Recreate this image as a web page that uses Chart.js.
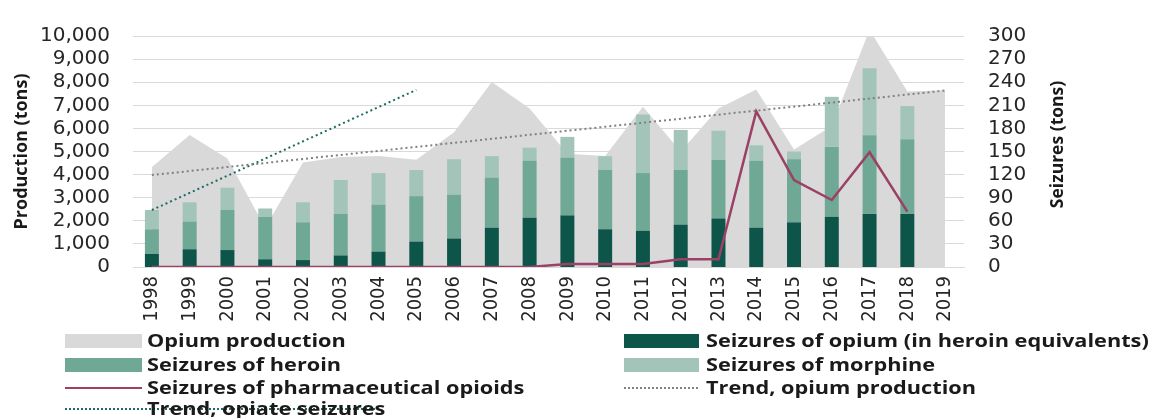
<!DOCTYPE html>
<html>
<head>
<meta charset="utf-8">
<script src="https://cdn.jsdelivr.net/npm/chart.js@4.4.1/dist/chart.umd.min.js"></script>
<style>
  body { margin: 0; background: #fff; }
  #wrap { position: relative; width: 1150px; height: 418px; overflow: hidden; }
  #legend { position: absolute; left: 0; top: 0; width: 1150px; height: 418px; pointer-events: none;
            font: 700 17.5px "Open Sans", sans-serif; color: #1a1a1a; }
  .sw { position: absolute; }
  .lbl { position: absolute; white-space: nowrap; line-height: 22px;
         transform: scaleX(1.24); transform-origin: 0 50%; }
</style>
</head>
<body>
<div id="wrap">
  <canvas id="myChart" width="1150" height="418"></canvas>
  <div id="legend"></div>
</div>
<script>
const years = ['1998','1999','2000','2001','2002','2003','2004','2005','2006','2007','2008',
               '2009','2010','2011','2012','2013','2014','2015','2016','2017','2018','2019'];

// left axis, tons
const opiumProduction = [4320, 5710, 4700, 1700, 4520, 4760, 4800, 4640, 5830, 8010, 6860,
                         4900, 4800, 6940, 5000, 6860, 7680, 5090, 6100, 10270, 7600, 7650];
const trendProduction = [3980, null, null, null, null, null, null, null, null, null, null,
                         null, null, null, null, null, null, null, null, null, null, 7640];

// right axis, tons
const seizOpium    = [17, 23, 22, 10,  9, 15, 20, 33, 37, 51, 64, 67, 49, 47, 55, 63, 51, 58, 65,  69, 69, null];
const seizHeroin   = [32, 36, 52, 55, 49, 54, 61, 59, 57, 65, 74, 75, 77, 75, 71, 76, 87, 82, 91, 102, 97, null];
const seizMorphine = [25, 25, 29, 11, 26, 44, 41, 34, 46, 28, 17, 27, 18, 76, 52, 38, 20, 10, 65,  87, 43, null];
const seizPharma   = [0, 0, 0, 0, 0, 0, 0, 0, 0, 0, 0, 4, 4, 4, 10, 10, 202, 113, 87, 149, 72, null];
const trendSeizures = [74, null, null, null, null, null, null, 230, null, null, null,
                       null, null, null, null, null, null, null, null, null, null, null];

const leftTicks = { min: 0, max: 10000, step: 1000 };
const rightTicks = { min: 0, max: 300, step: 30 };

const tickFont = { family: 'DejaVu Sans', size: 20 };
const yearFont = { family: '"Liberation Sans Narrow", "DejaVu Sans Condensed", sans-serif', size: 20 };
const textCol = '#262626';

const rightTitle = {
  id: 'rightTitle',
  afterDraw(c) {
    const ctx = c.ctx;
    const s = c.scales.y2;
    ctx.save();
    ctx.translate(s.right - 92, (c.chartArea.top + c.chartArea.bottom) / 2 - 7);
    ctx.rotate(-Math.PI / 2);
    ctx.font = '700 17.5px "Open Sans"';
    ctx.fillStyle = '#1a1a1a';
    ctx.textAlign = 'center';
    ctx.textBaseline = 'middle';
    ctx.fillText('Seizures (tons)', 0, 0);
    ctx.restore();
  }
};

const data = {
  labels: years,
  datasets: [
    { type: 'line', label: 'Opium production', data: opiumProduction, yAxisID: 'y', stack: 'prod',
      fill: 'origin', backgroundColor: '#d9d9d9', borderWidth: 0, pointRadius: 0, order: 10, clip: false },
    { label: 'Seizures of opium (in heroin equivalents)', data: seizOpium, yAxisID: 'y2', stack: 's',
      backgroundColor: '#0d5449', barPercentage: 0.37, categoryPercentage: 1, order: 5 },
    { label: 'Seizures of heroin', data: seizHeroin, yAxisID: 'y2', stack: 's',
      backgroundColor: '#6fa894', barPercentage: 0.37, categoryPercentage: 1, order: 5 },
    { label: 'Seizures of morphine', data: seizMorphine, yAxisID: 'y2', stack: 's',
      backgroundColor: '#a3c5b9', barPercentage: 0.37, categoryPercentage: 1, order: 5 },
    { type: 'line', label: 'Seizures of pharmaceutical opioids', data: seizPharma, yAxisID: 'y2', stack: 'ph',
      borderColor: '#9a4165', borderWidth: 2.5, pointRadius: 0, fill: false, order: 1 },
    { type: 'line', label: 'Trend, opium production', data: trendProduction, yAxisID: 'y', stack: 'tp',
      borderColor: '#808080', borderWidth: 2, borderDash: [2, 3], spanGaps: true, pointRadius: 0, fill: false, order: 2 },
    { type: 'line', label: 'Trend, opiate seizures', data: trendSeizures, yAxisID: 'y2', stack: 'ts',
      borderColor: '#1e6b63', borderWidth: 2, borderDash: [2, 3], spanGaps: true, pointRadius: 0, fill: false, order: 2 }
  ]
};

const config = {
  type: 'bar',
  data: data,
  options: {
    responsive: false,
    animation: false,
    layout: { padding: { top: 11, left: 0, right: 0, bottom: 0 } },
    plugins: { legend: { display: false }, tooltip: { enabled: false } },
    scales: {
      x: {
        stacked: true,
        grid: { display: false, drawTicks: false },
        border: { color: '#d9d9d9' },
        ticks: { minRotation: 90, maxRotation: 90, autoSkip: false, padding: 9, font: yearFont, color: textCol },
        afterFit(s) { s.height = 151; }
      },
      y: {
        position: 'left',
        min: leftTicks.min, max: leftTicks.max,
        ticks: { stepSize: leftTicks.step, autoSkip: false, padding: 23, font: tickFont, color: textCol },
        grid: { color: '#d9d9d9', drawTicks: false },
        border: { display: false },
        title: { display: true, text: 'Production (tons)', color: '#1a1a1a',
                 font: { family: 'Open Sans', weight: 'bold', size: 18 }, padding: { top: 11, bottom: 0 } },
        afterFit(s) { s.width = 133; }
      },
      y2: {
        position: 'right',
        stacked: true,
        min: rightTicks.min, max: rightTicks.max,
        ticks: { stepSize: rightTicks.step, autoSkip: false, padding: 24, font: tickFont, color: textCol },
        grid: { display: false, drawTicks: false },
        border: { display: false },
        afterFit(s) { s.width = 186; }
      }
    }
  },
  plugins: [rightTitle]
};

const myChart = new Chart(document.getElementById('myChart'), config);

// legend, two columns like the original
const legendItems = [
  // dataset index, column, row, swatch length
  [0, 0, 0, 77], [1, 1, 0, 75],
  [2, 0, 1, 77], [3, 1, 1, 75],
  [4, 0, 2, 77], [5, 1, 2, 75],
  [6, 0, 3, 315]
];
const colX = [[65, 147], [624, 706]];
const rowY = [341, 365, 388, 409];
const legend = document.getElementById('legend');

legendItems.forEach(([di, col, row, len]) => {
  const ds = myChart.data.datasets[di];
  const sw = document.createElement('div');
  sw.className = 'sw';
  sw.style.left = colX[col][0] + 'px';
  sw.style.width = len + 'px';
  let h;
  if (ds.type !== 'line' || ds.fill === 'origin') {
    h = 14;
    sw.style.background = ds.backgroundColor;
  } else if (ds.borderDash) {
    h = 2;
    sw.style.background = 'repeating-linear-gradient(90deg,' + ds.borderColor + ' 0 2px, transparent 2px 4px)';
  } else {
    h = 2;
    sw.style.background = ds.borderColor;
  }
  sw.style.height = h + 'px';
  sw.style.top = (rowY[row] - h / 2) + 'px';
  legend.appendChild(sw);

  const t = document.createElement('div');
  t.className = 'lbl';
  t.textContent = ds.label;
  t.style.left = colX[col][1] + 'px';
  t.style.top = (rowY[row] - 12) + 'px';
  legend.appendChild(t);
});
</script>
</body>
</html>
